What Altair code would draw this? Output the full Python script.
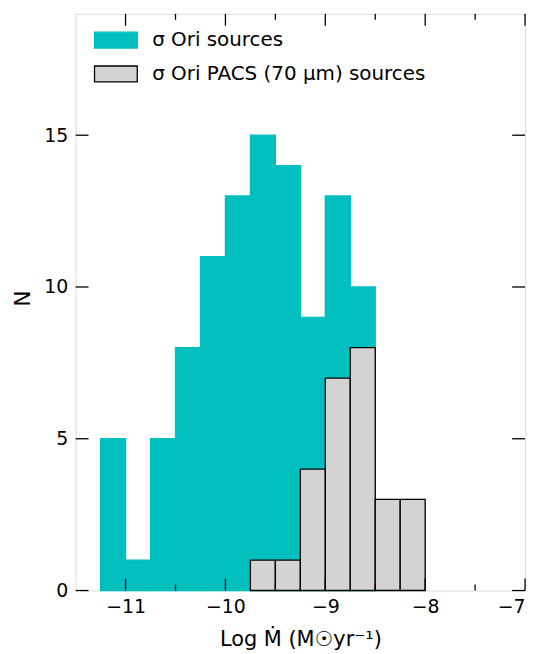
import altair as alt
import pandas as pd

# Histogram data (bin edges and counts)
cyan_lo = [-11.25, -11.0, -10.75, -10.5, -10.25, -10.0, -9.75, -9.5, -9.25, -9.0, -8.75]
cyan_hi = [-11.0, -10.75, -10.5, -10.25, -10.0, -9.75, -9.5, -9.25, -9.0, -8.75, -8.5]
cyan_n = [5, 1, 5, 8, 11, 13, 15, 14, 9, 13, 10]

gray_lo = [-9.75, -9.5, -9.25, -9.0, -8.75, -8.5, -8.25]
gray_hi = [-9.5, -9.25, -9.0, -8.75, -8.5, -8.25, -8.0]
gray_n = [1, 1, 4, 7, 8, 3, 3]

series_names = ["σ Ori sources", "σ Ori PACS (70 μm) sources"]

x_major = [-11, -10, -9, -8, -7]
x_minor = [-10.5, -9.5, -8.5, -7.5]
y_major = [0, 5, 10, 15]

W, H = 452, 580

bars = pd.concat([
    pd.DataFrame({"lo": cyan_lo, "hi": cyan_hi, "n": cyan_n, "s": series_names[0], "o": 0}),
    pd.DataFrame({"lo": gray_lo, "hi": gray_hi, "n": gray_n, "s": series_names[1], "o": 1}),
])

xs = alt.Scale(domain=[-11.5, -7], nice=False, zero=False)
ys = alt.Scale(domain=[0, 19], nice=False)

FONT = "DejaVu Sans"

bar_layer = alt.Chart(bars).mark_rect(strokeWidth=1.3).encode(
    x=alt.X("lo:Q", scale=xs,
            axis=alt.Axis(values=x_major, format="d", ticks=False, domain=False, grid=False,
                          labelFontSize=19, labelPadding=7, labelColor="black", labelFont=FONT,
                          title="Log Ṁ (M☉yr⁻¹)", titleFontSize=21, titleFontWeight="normal",
                          titleFont=FONT, titleColor="black", titleX=226, titleY=55,
                          titleBaseline="alphabetic")),
    x2="hi:Q",
    y=alt.Y("n:Q", scale=ys,
            axis=alt.Axis(values=y_major, format="d", ticks=False, domain=False, grid=False,
                          labelFontSize=19, labelPadding=8, labelColor="black", labelFont=FONT,
                          title="N", titleFontSize=22, titleFontWeight="normal", titleFont=FONT,
                          titleColor="black", titleX=-53, titleY=286, titleAlign="center",
                          titleBaseline="middle", titleAngle=270)),
    y2=alt.datum(0),
    fill=alt.Fill("s:N", scale=alt.Scale(domain=series_names, range=["#00BFBF", "#D3D3D3"]),
                  legend=alt.Legend(title=None, orient="none", legendX=18, legendY=4,
                                    symbolType="M-1,-0.372H1V0.372H-1Z", symbolSize=1849,
                                    symbolStrokeWidth=1.3, labelFontSize=20, labelFont=FONT,
                                    labelColor="black", labelOffset=14, rowPadding=-5,
                                    padding=0, labelLimit=400)),
    stroke=alt.Stroke("s:N", scale=alt.Scale(domain=series_names, range=["#00BFBF", "black"]),
                      legend=None),
    order="o:Q",
)

tk = dict(color="black", strokeWidth=1.3)
xmaj = pd.DataFrame({"v": x_major})
xmin = pd.DataFrame({"v": x_minor})
ymaj = pd.DataFrame({"v": y_major})

bot_major = alt.Chart(xmaj).mark_rule(**tk).encode(x=alt.X("v:Q", scale=xs), y=alt.value(H), y2=alt.value(H - 12))
top_major = alt.Chart(xmaj).mark_rule(**tk).encode(x=alt.X("v:Q", scale=xs), y=alt.value(0), y2=alt.value(12))
bot_minor = alt.Chart(xmin).mark_rule(**tk).encode(x=alt.X("v:Q", scale=xs), y=alt.value(H), y2=alt.value(H - 6))
top_minor = alt.Chart(xmin).mark_rule(**tk).encode(x=alt.X("v:Q", scale=xs), y=alt.value(0), y2=alt.value(6))
left_major = alt.Chart(ymaj).mark_rule(**tk).encode(y=alt.Y("v:Q", scale=ys), x=alt.value(0), x2=alt.value(13))
right_major = alt.Chart(ymaj).mark_rule(**tk).encode(y=alt.Y("v:Q", scale=ys), x=alt.value(W), x2=alt.value(W - 13))

chart = alt.layer(
    bar_layer, bot_major, top_major, bot_minor, top_minor, left_major, right_major
).properties(
    width=W, height=H,
    autosize=alt.AutoSizeParams(type="none"),
    padding={"left": 68, "top": 4, "right": 10, "bottom": 60},
).configure_view(
    stroke="black", strokeWidth=1.5
).configure(background="white")

chart.save("out.html", embed_options={"renderer": "svg", "actions": False})
